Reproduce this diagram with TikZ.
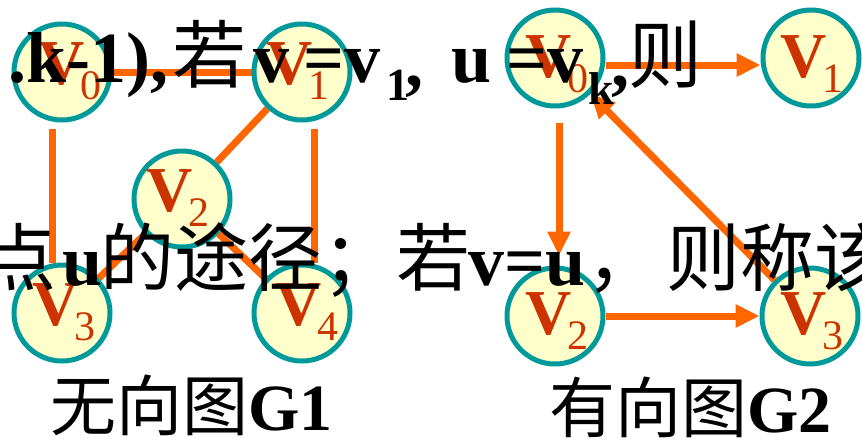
\documentclass[tikz,border=0pt]{standalone}
\usepackage{fontspec}
\setmainfont{Liberation Serif}
\newfontfamily\cjk{Noto Sans CJK SC}
\usetikzlibrary{arrows.meta}
\pgfdeclarelayer{bg}
\pgfsetlayers{bg,main}
\definecolor{vfill}{HTML}{FFFFCC}
\definecolor{vborder}{HTML}{009999}
\definecolor{vred}{HTML}{CC3300}
\definecolor{eorange}{HTML}{FF6600}
% #1 node, #2 digit, #3 x offset of V, #4 baseline offset of V (down)
\newcommand\vlab[4]{%
  \node[vV] (#1V) at ([xshift=#3pt,yshift=-#4pt]#1.center) {V};
  \node[vsub] (#1s) at ([xshift=#3pt+42pt,yshift=-#4pt-15pt]#1.center) {#2};}
\begin{document}
\begin{tikzpicture}[x=1pt,y=-1pt,
  vert/.style={circle, draw=vborder, fill=vfill, line width=5pt, minimum size=96pt, inner sep=0pt},
  edge/.style={draw=eorange, line width=7pt},
  arr/.style={edge, -{Triangle[length=24pt,width=22pt]}},
  vV/.style={anchor=base west, inner sep=0pt, text=vred, font=\fontsize{64}{64}\selectfont\bfseries},
  vsub/.style={anchor=base west, inner sep=0pt, text=vred, font=\fontsize{42}{42}\selectfont},
  big/.style={anchor=base west, inner sep=0pt, text=black, font=\fontsize{72}{72}\selectfont\bfseries},
  bigcjk/.style={anchor=base west, inner sep=0pt, text=black, font=\fontsize{74}{74}\selectfont\cjk},
  small/.style={anchor=base west, inner sep=0pt, text=black, font=\fontsize{46}{46}\selectfont\bfseries},
  captext/.style={anchor=base west, inner sep=0pt, text=black, font=\fontsize{66}{66}\selectfont},
]
\useasboundingbox (0,0) rectangle (862,440);
\begin{pgfonlayer}{bg}
  \fill[white] (0,0) rectangle (862,440);
\end{pgfonlayer}

% G1 vertices
\node[vert] (g1v0) at (62,72) {};
\node[vert] (g1v1) at (302,72) {};
\node[vert] (g1v2) at (182,199) {};
\node[vert] (g1v3) at (62,313) {};
\node[vert] (g1v4) at (302,313) {};
% G2 vertices
\node[vert] (g2v0) at (555,58) {};
\node[vert] (g2v1) at (811,58) {};
\node[vert] (g2v2) at (555,316) {};
\node[vert] (g2v3) at (810,316) {};

\begin{pgfonlayer}{bg}
  \draw[edge] (g1v0) -- (g1v1);
  \draw[edge, shorten <=6pt] ([xshift=-10pt]g1v0.south) -- ([xshift=-10pt]g1v3.north);
  \draw[edge, shorten <=6pt] ([xshift=12pt]g1v1.south) -- ([xshift=12pt]g1v4.north);
  \draw[edge] (g1v1) -- (g1v2);
  \draw[edge] (g1v2) -- (g1v3);
  \draw[edge] (g1v2) -- (g1v4);
\end{pgfonlayer}
\draw[arr] ([yshift=-7pt]g2v0.east) -- ([yshift=-7pt]g2v1.west);
\draw[arr, shorten <=14pt, shorten >=10pt] ([xshift=4pt]g2v0.south) -- ([xshift=4pt]g2v2.north);
\draw[arr] (g2v3) -- (g2v0);
\draw[arr] (g2v2) -- (g2v3);

\vlab{g1v0}{0}{-24}{12}
\vlab{g1v1}{1}{-36}{12}
\vlab{g1v2}{2}{-36}{12}
\vlab{g1v3}{3}{-30}{12}
\vlab{g1v4}{4}{-27}{12}
\vlab{g2v0}{0}{-30}{19}
\vlab{g2v1}{1}{-31}{19}
\vlab{g2v2}{2}{-30}{18}
\vlab{g2v3}{3}{-30}{18}

% captions
\node[captext] (cap1) at (50,430) {{\cjk 无向图}\textbf{G1}};
\node[captext] (cap2) at (549,432) {{\cjk 有向图}\textbf{G2}};

% overlay text line 1
\node[big] (a1) at (8,82) {.k-1),};
\node[bigcjk] (a2) at (172,82) {若};
\node[big] (a3) at (253,82) {v};
\node[big] (a4) at (303,82) {=v};
\node[small] (a5) at (386,100) {1};
\node[big] (a6) at (405,86) {,};
\node[big] (a7) at (451,82) {u};
\node[big] (a8) at (506,82) {=v};
\node[small] (a9) at (588,104) {k};
\node[big] (a10) at (611,86) {,};
\node[bigcjk] (a11) at (628,82) {则};
% overlay text line 2
\node[bigcjk] (b1) at (-18,285) {点};
\node[big] (b2) at (62,285) {u};
\node[bigcjk] (b3) at (100,285) {的途径；若};
\node[big] (b4) at (468,285) {v=u};
\node[bigcjk] (b5) at (586,285) {，};
\node[bigcjk] (b6) at (666,285) {则称该};
\end{tikzpicture}
\end{document}
